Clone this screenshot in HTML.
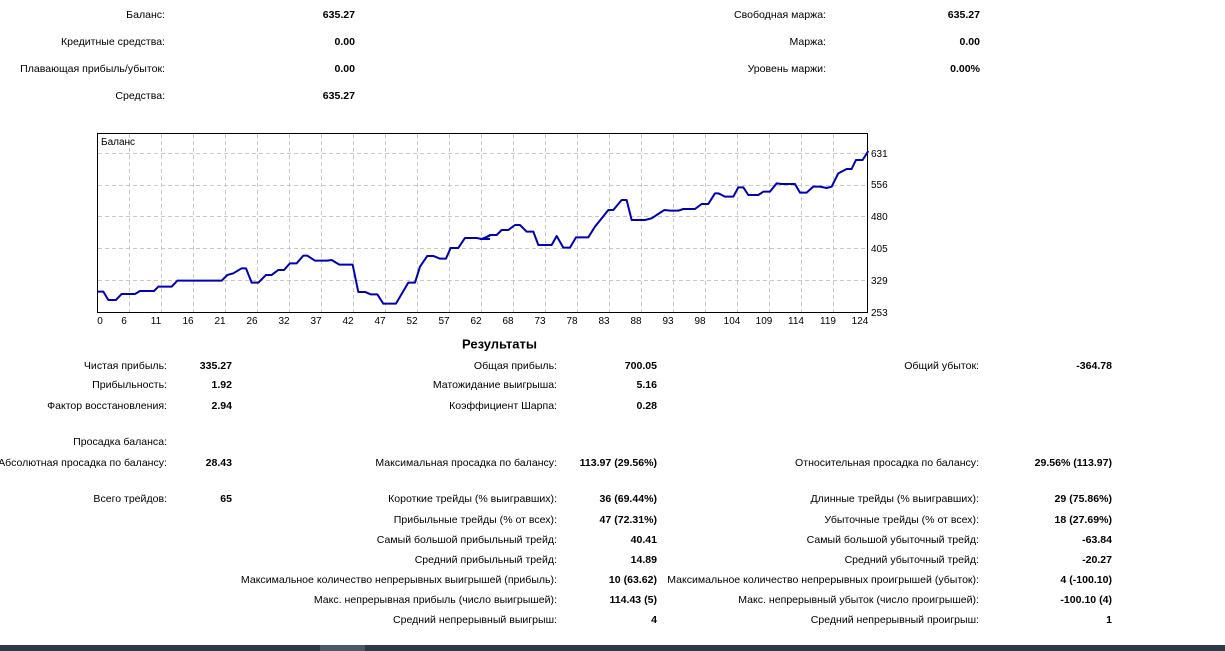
<!DOCTYPE html>
<html><head><meta charset="utf-8"><style>
body{margin:0;width:1225px;height:651px;background:#fff;position:relative;overflow:hidden;font-family:"Liberation Sans","DejaVu Sans",sans-serif;font-size:10.55px;color:#000}
.r{position:absolute;white-space:nowrap;text-align:right;transform:translateY(-50%)}
.b{font-weight:bold}
</style></head><body>
<div id="c"></div>
<svg width="1225" height="651" style="position:absolute;left:0;top:0">
<rect x="97.5" y="133.5" width="770" height="179" fill="#fff" stroke="#000"/>
<g stroke="#c8c8c8" stroke-dasharray="4,3" stroke-width="1">
<line x1="98" x2="867" y1="153.5" y2="153.5"/><line x1="98" x2="867" y1="185.5" y2="185.5"/><line x1="98" x2="867" y1="216.5" y2="216.5"/><line x1="98" x2="867" y1="248.5" y2="248.5"/><line x1="98" x2="867" y1="280.5" y2="280.5"/>
<g id="vg"></g>
</g>
<g fill="#000" font-size="10" font-family="Liberation Sans,sans-serif">
<text x="101" y="145">Баланс</text>
<text x="871" y="157">631</text><text x="871" y="188">556</text><text x="871" y="220">480</text><text x="871" y="252">405</text><text x="871" y="284">329</text><text x="871" y="316">253</text>
<g id="xl" text-anchor="middle"></g>
</g>
<g fill="none" stroke="#0000b4" stroke-width="6" stroke-linejoin="round">
<polyline transform="translate(90,130) scale(0.3333)" points="22,485 40,485 55,510 78,510 95,492 135,492 150,483 192,483 205,470 245,470 262,452 395,452 412,435 430,430 455,415 468,415 485,458 505,458 528,435 545,435 565,420 582,420 600,400 620,400 640,377 652,377 675,392 712,392 725,390 748,404 788,404 805,486 825,486 842,493 862,493 880,521 918,521 955,458 975,458 990,410 1012,378 1030,378 1050,386 1068,386 1082,354 1105,354 1125,324 1160,324 1175,327 1200,317"/>
<polyline transform="translate(480,130) scale(0.3333)" points="0,327 10,327 30,315 50,315 65,300 85,300 105,285 120,285 140,305 160,305 175,345 215,345 230,318 250,353 270,353 288,322 325,322 345,290 365,265 385,240 400,240 425,210 440,210 455,270 495,270 515,265 530,255 553,240 570,242 595,242 610,237 645,237 665,222 685,222 705,190 715,190 735,200 760,200 775,172 790,172 805,195 835,195 850,185 870,185 890,160 905,162 945,162 960,188 980,188 1000,170 1020,170 1040,174 1055,170 1075,130 1100,117 1115,117 1128,90 1148,90 1165,63"/>
<line x1="480" y1="239" x2="490" y2="239" stroke-width="2"/>
</g>
<rect x="0" y="645" width="1225" height="6" fill="#2b3a44"/>
<rect x="320" y="645" width="45" height="6" fill="#4a5963"/>
</svg>
<script>
var ticks=[0,6,11,16,21,26,32,37,42,47,52,57,62,68,73,78,83,88,93,98,104,109,114,119,124];
var vg='',xl='';
ticks.forEach(function(t,k){var x=97+32*k;if(k>0&&k<24)vg+='<line x1="'+(x+.5)+'" x2="'+(x+.5)+'" y1="134" y2="312"/>';xl+='<text x="'+(k==0?100:x-5)+'" y="324">'+t+'</text>';});
document.getElementById('vg').innerHTML=vg;document.getElementById('xl').innerHTML=xl;
var items=[
[165,15,'Баланс:',0],[355,15,'635.27',1],[826,15,'Свободная маржа:',0],[980,15,'635.27',1],
[165,42,'Кредитные средства:',0],[355,42,'0.00',1],[826,42,'Маржа:',0],[980,42,'0.00',1],
[165,69,'Плавающая прибыль/убыток:',0],[355,69,'0.00',1],[826,69,'Уровень маржи:',0],[980,69,'0.00%',1],
[165,96,'Средства:',0],[355,96,'635.27',1],
[167,366,'Чистая прибыль:',0],[232,366,'335.27',1],[557,366,'Общая прибыль:',0],[657,366,'700.05',1],[979,366,'Общий убыток:',0],[1112,366,'-364.78',1],
[167,385,'Прибыльность:',0],[232,385,'1.92',1],[557,385,'Матожидание выигрыша:',0],[657,385,'5.16',1],
[167,406,'Фактор восстановления:',0],[232,406,'2.94',1],[557,406,'Коэффициент Шарпа:',0],[657,406,'0.28',1],
[167,442,'Просадка баланса:',0],
[167,463,'Абсолютная просадка по балансу:',0],[232,463,'28.43',1],[557,463,'Максимальная просадка по балансу:',0],[657,463,'113.97 (29.56%)',1],[979,463,'Относительная просадка по балансу:',0],[1112,463,'29.56% (113.97)',1],
[167,499,'Всего трейдов:',0],[232,499,'65',1],[557,499,'Короткие трейды (% выигравших):',0],[657,499,'36 (69.44%)',1],[979,499,'Длинные трейды (% выигравших):',0],[1112,499,'29 (75.86%)',1],
[557,520,'Прибыльные трейды (% от всех):',0],[657,520,'47 (72.31%)',1],[979,520,'Убыточные трейды (% от всех):',0],[1112,520,'18 (27.69%)',1],
[557,540,'Самый большой прибыльный трейд:',0],[657,540,'40.41',1],[979,540,'Самый большой убыточный трейд:',0],[1112,540,'-63.84',1],
[557,560,'Средний прибыльный трейд:',0],[657,560,'14.89',1],[979,560,'Средний убыточный трейд:',0],[1112,560,'-20.27',1],
[557,580,'Максимальное количество непрерывных выигрышей (прибыль):',0],[657,580,'10 (63.62)',1],[979,580,'Максимальное количество непрерывных проигрышей (убыток):',0],[1112,580,'4 (-100.10)',1],
[557,600,'Макс. непрерывная прибыль (число выигрышей):',0],[657,600,'114.43 (5)',1],[979,600,'Макс. непрерывный убыток (число проигрышей):',0],[1112,600,'-100.10 (4)',1],
[557,620,'Средний непрерывный выигрыш:',0],[657,620,'4',1],[979,620,'Средний непрерывный проигрыш:',0],[1112,620,'1',1]];
var h='';items.forEach(function(i){h+='<div class="r'+(i[3]?' b':'')+'" style="right:'+(1225-i[0])+'px;top:'+i[1]+'px">'+i[2]+'</div>';});
h+='<div class="r b" style="left:462px;top:344px;font-size:13px">Результаты</div>';
document.getElementById('c').innerHTML=h;
</script>
</body></html>
